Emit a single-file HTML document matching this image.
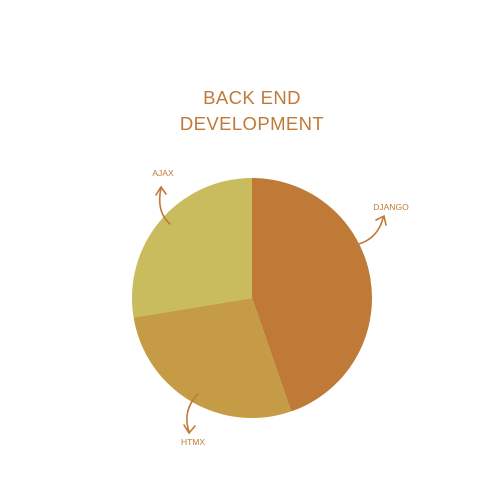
<!DOCTYPE html>
<html><head><meta charset="utf-8"><style>
html,body{margin:0;padding:0;background:#fff;width:500px;height:500px;overflow:hidden}
svg{display:block}
text{font-family:"Liberation Sans",sans-serif;fill:#C07A37}
</style></head><body>
<svg id="chart" width="500" height="500" viewBox="0 0 500 500">
<text x="252" y="104" text-anchor="middle" font-size="18.5" style="font-weight:300;letter-spacing:0.4px">BACK END</text>
<text x="252" y="130" text-anchor="middle" font-size="18.5" style="font-weight:300;letter-spacing:0.4px">DEVELOPMENT</text>
<g id="slices"></g>
<g id="annotations" fill="none" stroke="#C07A37" stroke-width="1.6" stroke-linecap="round">
<path d="M170 224 Q156 212 161 188 M156 195 L161 187 L166 194"/>
<path d="M359 244 Q378 238 383 218 M376 220 L384 216 L386 225"/>
<path d="M198 394 Q182 410 189 432 M184 425 L189 433 L195 426"/>
</g>
<text x="163" y="176" text-anchor="middle" font-size="8.5">AJAX</text>
<text x="391" y="210" text-anchor="middle" font-size="8.5">DJANGO</text>
<text x="193" y="445" text-anchor="middle" font-size="8.5">HTMX</text>
</svg>
<script>
const categories = ["DJANGO", "HTMX", "AJAX"];
const values = [44.7, 27.7, 27.6];
const colors = ["#C07A37", "#C59B45", "#C9BC5F"];
const cx = 252, cy = 298, r = 120;
const g = document.getElementById('slices');
const total = values.reduce((a, b) => a + b, 0);
let a0 = 0;
values.forEach((v, i) => {
  const a1 = a0 + v / total * Math.PI * 2;
  const x0 = cx + r * Math.sin(a0), y0 = cy - r * Math.cos(a0);
  const x1 = cx + r * Math.sin(a1), y1 = cy - r * Math.cos(a1);
  const large = (a1 - a0) > Math.PI ? 1 : 0;
  const p = document.createElementNS('http://www.w3.org/2000/svg', 'path');
  p.setAttribute('d', `M${cx} ${cy} L${x0} ${y0} A${r} ${r} 0 ${large} 1 ${x1} ${y1} Z`);
  p.setAttribute('fill', colors[i]);
  
  
  g.appendChild(p);
  a0 = a1;
});
</script>
</body></html>
